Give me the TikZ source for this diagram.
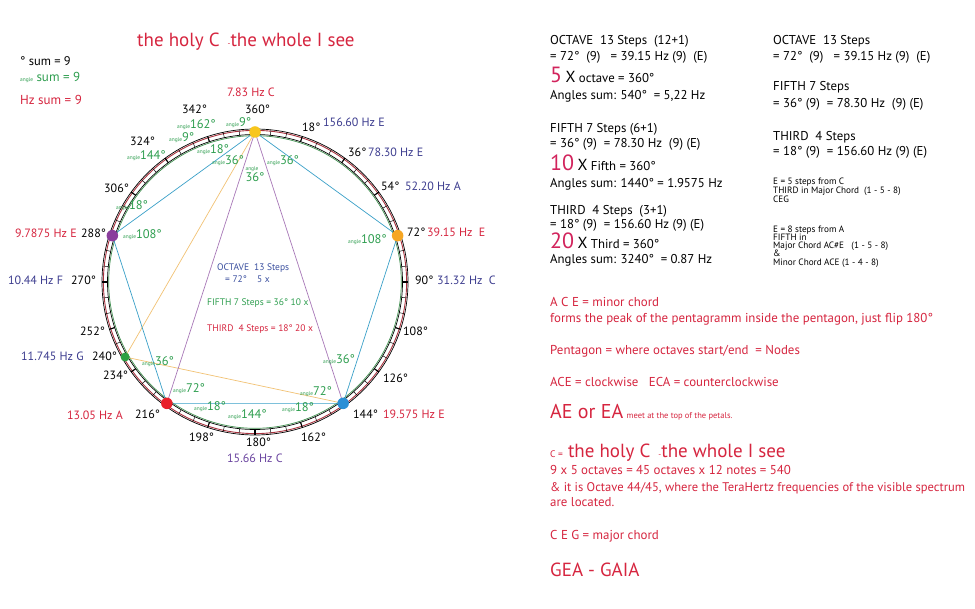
\documentclass[tikz,border=0pt]{standalone}
\usepackage{fontspec}
\setmainfont{PT Sans}
\definecolor{hzred}{HTML}{D6253F}
\definecolor{hzblue}{HTML}{3D3D8F}
\definecolor{hzpurple}{HTML}{6B45A0}
\definecolor{angreen}{HTML}{2E9E4F}
\definecolor{octblue}{HTML}{3A4F9F}
\definecolor{pinknum}{HTML}{D2235C}
\definecolor{cyanl}{HTML}{3AA0C8}
\definecolor{purpl}{HTML}{A878B8}
\definecolor{orangel}{HTML}{F2C274}
\definecolor{ringred}{HTML}{A8323E}
\definecolor{ringgreen}{HTML}{3E8E4E}
\definecolor{dotyellow}{HTML}{F8C61C}
\definecolor{dotorange}{HTML}{F6A623}
\definecolor{dotblue}{HTML}{2B8FD6}
\definecolor{dotred}{HTML}{E8202A}
\definecolor{dotpurple}{HTML}{8A3D9C}
\definecolor{dotgreen}{HTML}{2EA043}
\newcommand{\angl}{{\fontsize{5.4}{6}\selectfont angle}}
\begin{document}
\begin{tikzpicture}[x=1pt,y=-1pt,
  lbl/.style={inner sep=0pt,anchor=west,text height=0.75em,text depth=0.2em},
  deg/.style={lbl,font=\fontsize{12}{12}\selectfont,text=black},
  hzr/.style={lbl,font=\fontsize{12}{12}\selectfont,text=hzred},
  hzb/.style={lbl,font=\fontsize{12}{12}\selectfont,text=hzblue},
  ang/.style={lbl,font=\fontsize{12.5}{12}\selectfont,text=angreen},
  col/.style={lbl,font=\fontsize{12.8}{13}\selectfont,text=black},
  small/.style={lbl,font=\fontsize{9.2}{9}\selectfont,text=black},
  redt/.style={lbl,font=\fontsize{12.9}{13}\selectfont,text=hzred},
  mid/.style={lbl,font=\fontsize{9.5}{10}\selectfont},
  dot/.style={circle,inner sep=0pt,minimum size=11.5pt,draw=none},
  edge/.style={line width=0.7pt}]
\useasboundingbox (0,0) rectangle (975,609);
\fill[white] (0,0) rectangle (975,609);

% ring
\draw[black,line width=0.7pt] (255,282) circle (153pt);
\draw[ringred,line width=0.9pt] (255,282) circle (151.6pt);
\draw[black,line width=0.7pt] (255,282) circle (147.5pt);
\draw[ringgreen,line width=0.7pt] (255,282) circle (146.3pt);
\foreach \a in {0,6,...,354}
  \draw[black,line width=0.5pt] ({255+147.5*sin(\a)},{282-147.5*cos(\a)}) -- ({255+153*sin(\a)},{282-153*cos(\a)});
\foreach \a in {0,18,...,342}
  \draw[black,line width=1.1pt] ({255+147.5*sin(\a)},{282-147.5*cos(\a)}) -- ({255+153*sin(\a)},{282-153*cos(\a)});

% pentagon points
\coordinate (P0) at (255,132);
\coordinate (P72) at ({255+150*sin(72)},{282-150*cos(72)});
\coordinate (P144) at ({255+150*sin(144)},{282-150*cos(144)});
\coordinate (P216) at ({255+150*sin(216)},{282-150*cos(216)});
\coordinate (P288) at ({255+150*sin(288)},{282-150*cos(288)});
\coordinate (G240) at ({255+150*sin(240)},{282-150*cos(240)});

\draw[edge,orangel] (P0) -- (G240) -- (P144);
\draw[edge,purpl] (P216) -- (P0) -- (P144);
\draw[edge,cyanl] (P0) -- (P72) -- (P144) -- (P216) -- (P288) -- cycle;

\node[dot,fill=dotyellow] (D0) at (P0) {};
\node[dot,fill=dotorange] (D72) at (P72) {};
\node[dot,fill=dotblue] (D144) at (P144) {};
\node[dot,fill=dotred] (D216) at (P216) {};
\node[dot,fill=dotpurple] (D288) at (P288) {};
\node[dot,fill=dotgreen,minimum size=9pt] (D240) at (G240) {};

% top-left legend
\node[lbl,font=\fontsize{12.5}{12}\selectfont] (s1) at (20,63) {° sum = 9};
\node[lbl,font=\fontsize{13}{12}\selectfont,text=angreen] (s2) at (20,79) {\angl\ sum = 9};
\node[lbl,font=\fontsize{13}{12}\selectfont,text=hzred] (s3) at (20,102) {Hz sum = 9};
\node[lbl,font=\fontsize{19}{19}\selectfont,text=hzred] (title) at (137,44) {the holy C\hspace{8pt}{\fontsize{8}{8}\selectfont -}the whole I see};

% degree labels
\node[deg] (d342) at (182,111) {342°};
\node[deg] (d360) at (245,111) {360°};
\node[deg] (d18) at (302,129) {18°};
\node[deg] (d36) at (348,154) {36°};
\node[deg] (d54) at (381,188) {54°};
\node[deg] (d72) at (407,234) {72°};
\node[deg] (d90) at (415,282) {90°};
\node[deg] (d108) at (403,333) {108°};
\node[deg] (d126) at (383,380) {126°};
\node[deg] (d144) at (353,416) {144°};
\node[deg] (d162) at (301,439) {162°};
\node[deg] (d180) at (246,444) {180°};
\node[deg] (d198) at (189,439) {198°};
\node[deg] (d216) at (135,416) {216°};
\node[deg] (d234) at (103,377) {234°};
\node[deg] (d240) at (92,358) {240°};
\node[deg] (d252) at (80,333) {252°};
\node[deg] (d270) at (71,282) {270°};
\node[deg] (d288) at (81,235) {288°};
\node[deg] (d306) at (104,190) {306°};
\node[deg] (d324) at (130,143) {324°};

% Hz labels
\node[hzr,anchor=center] (h0) at (251,94) {7.83 Hz C};
\node[hzb] (h18) at (323,124) {156.60 Hz E};
\node[hzb] (h36) at (368,154) {78.30 Hz E};
\node[hzb] (h54) at (405,188) {52.20 Hz A};
\node[hzr] (h72) at (427,234) {39.15 Hz\ \ E};
\node[hzb] (h90) at (437,282) {31.32 Hz\ \ C};
\node[hzr] (h144) at (383,416) {19.575 Hz E};
\node[lbl,font=\fontsize{12}{12}\selectfont,text=hzpurple] (h180) at (227,460) {15.66 Hz C};
\node[hzr] (h216) at (67,417) {13.05 Hz A};
\node[hzb] (h240) at (21,358) {11.745 Hz G};
\node[hzb] (h270) at (8,282) {10.44 Hz F};
\node[hzr] (h288) at (15,235) {9.7875 Hz E};

% angle labels
\node[ang] (a1) at (177,126) {\angl162°};
\node[ang] (a2) at (226,124) {\angl9°};
\node[ang] (a3) at (169,139) {\angl9°};
\node[ang] (a4) at (197,151) {\angl18°};
\node[ang] (a5) at (127,157) {\angl144°};
\node[ang] (a6) at (212,162) {\angl36°};
\node[ang,anchor=center] (a7a) at (252,168) {\angl};
\node[ang,anchor=center] (a7b) at (255,179) {36°};
\node[ang] (a8) at (267,162) {\angl36°};
\node[ang] (a9) at (116,207) {\angl18°};
\node[ang] (a10) at (123,236) {\angl108°};
\node[ang] (a11) at (142,363) {\angl36°};
\node[ang] (a12) at (173,390) {\angl72°};
\node[ang] (a13) at (194,408) {\angl18°};
\node[ang] (a14) at (228,416) {\angl144°};
\node[ang] (a15) at (282,409) {\angl18°};
\node[ang] (a16) at (300,393) {\angl72°};
\node[ang] (a17) at (323,361) {\angl36°};
\node[ang] (a18) at (348,241) {\angl108°};

% centre text
\node[mid,text=octblue] (c1) at (217,268) {OCTAVE\ \ 13 Steps};
\node[mid,text=octblue] (c2) at (225,280) {= 72°\ \ \ \ 5 x};
\node[mid,text=angreen] (c3) at (207,303) {FIFTH 7 Steps = 36° 10 x};
\node[mid,text=hzred] (c4) at (207,329) {THIRD\ \ 4 Steps = 18° 20 x};

% right column 1
\node[col] (r1) at (550,42) {OCTAVE\ \ 13 Steps\ \ (12+1)};
\node[col] (r2) at (550,58) {= 72°\ \ (9)\ \ \ = 39.15 Hz (9)\ \ (E)};
\node[col] (r3) at (550,80) {{\fontsize{22}{22}\selectfont\color{pinknum}5}\ {\fontsize{16}{16}\selectfont X} octave = 360°};
\node[col] (r4) at (550,97) {Angles sum: 540°\ \ = 5,22 Hz};
\node[col] (r5) at (550,130) {FIFTH 7 Steps (6+1)};
\node[col] (r6) at (550,145) {= 36° (9)\ \ = 78.30 Hz\ \ (9) (E)};
\node[col] (r7) at (550,168) {{\fontsize{22}{22}\selectfont\color{pinknum}10}\ {\fontsize{16}{16}\selectfont X} Fifth = 360°};
\node[col] (r8) at (550,185) {Angles sum: 1440° = 1.9575 Hz};
\node[col] (r9) at (550,212) {THIRD\ \ 4 Steps\ \ (3+1)};
\node[col] (r10) at (550,226) {= 18° (9)\ \ = 156.60 Hz (9) (E)};
\node[col] (r11) at (550,246) {{\fontsize{22}{22}\selectfont\color{pinknum}20}\ {\fontsize{16}{16}\selectfont X} Third = 360°};
\node[col] (r12) at (550,261) {Angles sum: 3240°\ \ = 0.87 Hz};

% right column 2
\node[col] (q1) at (773,42) {OCTAVE\ \ 13 Steps};
\node[col] (q2) at (773,58) {= 72°\ \ (9)\ \ \ = 39.15 Hz (9)\ \ (E)};
\node[col] (q3) at (773,88) {FIFTH 7 Steps};
\node[col] (q4) at (773,105) {= 36° (9)\ \ = 78.30 Hz\ \ (9) (E)};
\node[col] (q5) at (773,138) {THIRD\ \ 4 Steps};
\node[col] (q6) at (773,153) {= 18° (9)\ \ = 156.60 Hz (9) (E)};
\node[small] (e1) at (773,182) {E = 5 steps from C};
\node[small] (e2) at (773,191) {THIRD in Major Chord\ \ (1 - 5 - 8)};
\node[small] (e3) at (773,200) {CEG};
\node[small] (e4) at (773,230) {E = 8 steps from A};
\node[small] (e5) at (773,238) {FIFTH in};
\node[small] (e6) at (773,246) {Major Chord AC\#E\ \ \ (1 - 5 - 8)};
\node[small] (e7) at (773,254) {\&};
\node[small] (e8) at (773,263) {Minor Chord ACE (1 - 4 - 8)};

% red notes
\node[redt] (t1) at (550,304) {A C E = minor chord};
\node[redt] (t2) at (550,320) {forms the peak of the pentagramm inside the pentagon, just flip 180°};
\node[redt] (t3) at (550,352) {Pentagon = where octaves start/end\ \ = Nodes};
\node[redt] (t4) at (550,384) {ACE = clockwise\ \ \ ECA = counterclockwise};
\node[redt] (t5) at (550,416) {{\fontsize{20}{20}\selectfont AE or EA} {\fontsize{8.5}{8}\selectfont meet at the top of the petals.}};
\node[redt] (t6) at (550,455) {{\fontsize{9.5}{9}\selectfont C =}{\fontsize{19}{19}\selectfont\ the holy C}\hspace{8pt}{\fontsize{8}{8}\selectfont -}{\fontsize{19}{19}\selectfont the whole I see}};
\node[redt] (t7) at (550,472) {9 x 5 octaves = 45 octaves x 12 notes = 540};
\node[redt,font=\fontsize{12.55}{13}\selectfont] (t8) at (550,489) {\& it is Octave 44/45, where the TeraHertz frequencies of the visible spectrum};
\node[redt] (t9) at (550,504) {are located.};
\node[redt] (t10) at (550,537) {C E G = major chord};
\node[redt,font=\fontsize{19}{19}\selectfont] (t11) at (550,574) {GEA - GAIA};
\end{tikzpicture}
\end{document}
